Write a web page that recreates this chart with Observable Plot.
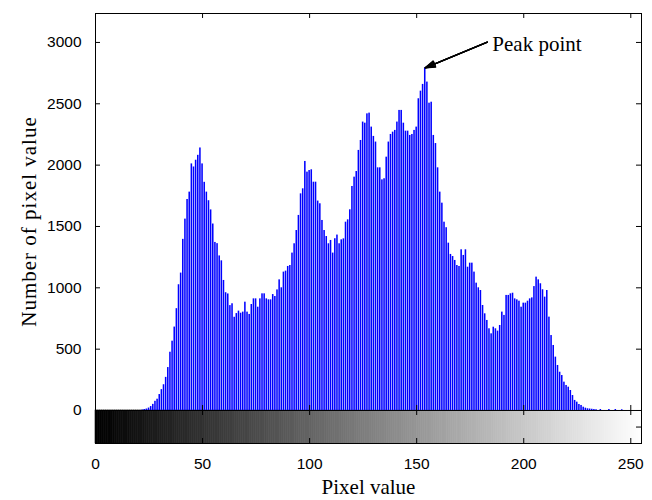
<!DOCTYPE html>
<html>
<head>
<meta charset="utf-8">
<script src="https://cdn.jsdelivr.net/npm/d3@7"></script>
<script src="https://cdn.jsdelivr.net/npm/@observablehq/plot@0.6"></script>
<style>
  html, body { margin: 0; padding: 0; background: #fff; }
  #chart svg { display: block; }
</style>
</head>
<body>
<div id="chart"></div>
<script>
// ---- data ----
const bins = d3.range(256); // pixel values 0..255
const counts = [
  0,0,0,0,0,0,0,0,0,0, 0,0,0,0,0,0,0,0,0,0,           // 0-19
  0,0,3,8,12,20,32,50,75,92,                           // 20-29
  130,170,210,270,350,475,565,680,830,1025,            // 30-39
  1120,1395,1560,1720,1780,2010,1985,2040,2080,2140,   // 40-49
  2010,1860,1780,1710,1635,1520,1370,1360,1260,1220,   // 50-59
  1060,960,950,855,870,760,790,810,793,802,            // 60-69
  883,802,783,864,910,910,842,910,951,951,             // 70-79
  910,902,902,945,929,983,1065,1000,1128,1136,         // 80-89
  1174,1182,1283,1359,1467,1590,1766,1807,2030,1943,   // 90-99
  1956,1962,1861,1861,1707,1685,1549,1467,1418,1359,   // 100-109
  1386,1283,1400,1430,1359,1391,1399,1535,1554,1636,   // 110-119
  1826,1902,1948,2120,2201,2351,2342,2418,2424,2310,   // 120-129
  2234,2188,1978,1978,1880,1889,2065,2188,2250,2269,   // 130-139
  2283,2351,2446,2446,2342,2277,2277,2242,2250,2283,   // 140-149
  2310,2541,2603,2658,2793,2677,2505,2513,2242,2176,   // 150-159
  1978,1780,1690,1535,1490,1364,1272,1255,1223,1182,   // 160-169
  1174,1310,1264,1310,1168,1201,1201,1128,1038,1000,   // 170-179
  978,856,788,734,666,625,679,666,647,693,             // 180-189
  802,775,938,938,951,956,910,902,891,842,             // 190-199
  875,875,891,910,918,1010,1087,1065,1033,984,         // 200-209
  924,978,761,611,530,435,367,312,285,231,             // 210-219
  204,190,163,122,82,68,49,41,27,19,                   // 220-229
  14,12,10,8,6,0,8,0,0,0,                              // 230-239
  8,0,0,8,0,0,6,0,0,0,                                 // 240-249
  0,0,0,0,0,0                                          // 250-255
];
const xTicks = [0, 50, 100, 150, 200, 250];
const yTicks = [0, 500, 1000, 1500, 2000, 2500, 3000];
const xDomain = [0, 255];
const yTop = 3236;        // top of histogram box
const yBottom = -269;     // bottom of grey-level bar
const cbTick = -135;      // right tick inside grey-level bar
const xLabel = "Pixel value";
const yLabel = "Number of pixel value";
const peakLabel = "Peak point";

const hist = bins.map((b, i) => ({bin: b, count: counts[i]}));
const grad = bins.slice(0, 255);
const peak = hist.reduce((a, b) => (b.count > a.count ? b : a));

const sans = "'Liberation Sans', Arial, sans-serif";
const serif = "'Liberation Serif', 'Times New Roman', serif";

const chart = Plot.plot({
  width: 652,
  height: 500,
  marginTop: 13,
  marginLeft: 95,
  marginRight: 11,
  marginBottom: 57,
  x: {domain: xDomain, axis: null},
  y: {domain: [yBottom, yTop], axis: null},
  color: {type: "linear", domain: [0, 255], range: ["#000000", "#ffffff"]},
  style: {background: "#fff", fontFamily: sans},
  marks: [
    // grey-level bar
    Plot.rect(grad, {x1: d => d, x2: d => d + 1, y1: yBottom, y2: 0, fill: d => d, stroke: d => d, strokeWidth: 0.6}),
    // histogram bars
    Plot.rect(hist, {x1: d => d.bin - 0.36, x2: d => d.bin + 0.36, y1: 0, y2: d => d.count, fill: "#0000ff"}),
    // frame and divider
    Plot.frame({stroke: "#000", strokeWidth: 1}),
    Plot.ruleY([0], {stroke: "#000", strokeWidth: 1}),
    // inward ticks
    Plot.ruleY(yTicks, {x1: 0, x2: 255, stroke: "#000", strokeDasharray: "5,536,5"}),
    Plot.ruleY([cbTick], {x1: 0, x2: 255, stroke: "#000", strokeDasharray: "0,541,5"}),
    Plot.ruleX(xTicks, {y1: 0, y2: yTop, stroke: "#000", strokeDasharray: "5,387,5"}),
    Plot.ruleX(xTicks, {y1: yBottom, y2: 0, stroke: "#000", strokeDasharray: "5,23,5"}),
    // tick labels
    Plot.text(xTicks, {x: d => d, frameAnchor: "bottom", lineAnchor: "middle", dy: 21, text: d => String(d), fontSize: 15.5, fill: "#000"}),
    Plot.text(yTicks, {y: d => d, frameAnchor: "left", lineAnchor: "middle", dx: -14, textAnchor: "end", text: d => String(d), fontSize: 15.5, fill: "#000"}),
    // axis titles
    Plot.text([xLabel], {frameAnchor: "bottom", lineAnchor: "middle", textAnchor: "middle", dy: 44, text: d => d, fontFamily: serif, fontSize: 21, fill: "#000"}),
    Plot.text([yLabel], {frameAnchor: "left", lineAnchor: "middle", textAnchor: "middle", dx: -66, dy: -7, rotate: -90, text: d => d, fontFamily: serif, fontSize: 21, fill: "#000"}),
    // annotation
    ...[10, 20, 30, 38].map(a =>
      Plot.arrow([peak], {x1: d => d.bin + 29, y1: d => d.count + 210, x2: d => d.bin, y2: d => d.count,
        headLength: 12, headAngle: a, stroke: "#000", strokeWidth: 1.3})
    ),
    Plot.text([peak], {x: d => d.bin + 29, y: d => d.count + 210, dx: 5, dy: 2, textAnchor: "start", lineAnchor: "middle",
      text: () => peakLabel, fontFamily: serif, fontSize: 21, fill: "#000"})
  ]
});
d3.select(chart).selectAll("text")
  .filter(function () { return this.textContent === yLabel; })
  .attr("letter-spacing", "1px");
document.getElementById("chart").appendChild(chart);
</script>
</body>
</html>
